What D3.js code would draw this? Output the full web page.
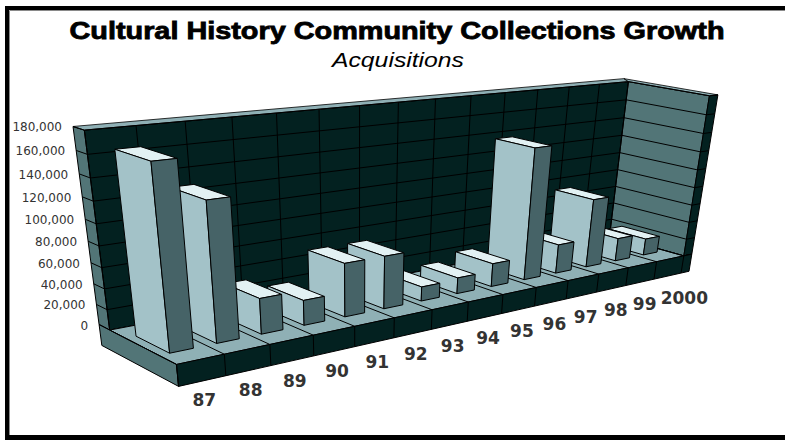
<!DOCTYPE html>
<html><head><meta charset="utf-8">
<script src="https://cdn.jsdelivr.net/npm/d3@7"></script>
<style>html,body{margin:0;padding:0;background:#fff}svg{display:block}</style></head>
<body><svg id="c" width="785" height="440"></svg>
<script>
const categories=["87","88","89","90","91","92","93","94","95","96","97","98","99","2000"];
const acquisitions=[168000,131000,35000,25000,54000,54000,15000,17000,25000,140000,32000,76000,26000,19000];
const tickValues=[0,20000,40000,60000,80000,100000,120000,140000,160000,180000];
const titleText="Cultural History Community Collections Growth";
const subtitleText="Acquisitions";
const tx=0.3,tz=0.17,base=-21000,bx0=0.22,bx1=0.72,bz0=0.25,bz1=0.75;
const xr=1+tx/14,yb=base/180000,zr=1+tz;
// camera calibration: box corner [x,y,z] (unit box) to its screen position
const calibration=[
 [0,0,1,110,331],[0,1,1,84,128],[1,0,1,610,227],[1,1,1,627,85],
 [1,0,0,682,257],[1,1,0,708,95],[0,0,0,176,359],
 [0,yb,0,178,386],[xr,yb,0,689,275],[xr,0,0,693,255],[xr,1,0,721,95],
 [0,0,zr,100,327],[0,yb,zr,102,350],[0,1,zr,73,126]];
const colors={back:"#032120",side:"#527577",floor:"#8fb0b5",light:"#a3c2c8",top:"#e2f1f3",dark:"#466367"};

function solve(A,b){const n=b.length,M=A.map((r,i)=>[...r,b[i]]);
 for(let i=0;i<n;i++){let p=i;for(let k=i+1;k<n;k++)if(Math.abs(M[k][i])>Math.abs(M[p][i]))p=k;
  [M[i],M[p]]=[M[p],M[i]];
  for(let k=0;k<n;k++){if(k===i)continue;const f=M[k][i]/M[i][i];for(let j=i;j<=n;j++)M[k][j]-=f*M[i][j];}}
 return M.map((r,i)=>r[n]/r[i]);}
function fitCamera(pts){const R=[],B=[];
 pts.forEach(([X,Y,Z,u,v])=>{
  R.push([X,Y,Z,1,0,0,0,0,-u*X,-u*Y,-u*Z]);B.push(u);
  R.push([0,0,0,0,X,Y,Z,1,-v*X,-v*Y,-v*Z]);B.push(v);});
 const n=11,A=d3.range(n).map(i=>d3.range(n).map(j=>d3.sum(R,r=>r[i]*r[j]))),
  b=d3.range(n).map(i=>d3.sum(R,(r,k)=>r[i]*B[k]));
 return solve(A,b);}
const P=fitCamera(calibration);

const xS=d3.scaleLinear().domain([0,categories.length]).range([0,1]);
const yS=d3.scaleLinear().domain([0,180000]).range([0,1]);
const proj=(x,v,z)=>{const X=xS(x),Y=yS(v),Z=z,w=P[8]*X+P[9]*Y+P[10]*Z+1;
 return [(P[0]*X+P[1]*Y+P[2]*Z+P[3])/w,(P[4]*X+P[5]*Y+P[6]*Z+P[7])/w];};

const n=categories.length;
const svg=d3.select("#c");
svg.append("rect").attr("width",785).attr("height",440).attr("fill","#fff");
svg.append("path").attr("d","M5 435V6H785V10H9V435Z").attr("fill","#000");
svg.append("rect").attr("x",5).attr("y",435).attr("width",780).attr("height",5).attr("fill","#000");
svg.append("path").attr("d","M9.5 435V10.5H785").attr("fill","none").attr("stroke","#8a8a8a").attr("stroke-width",1);

const g=svg.append("g").attr("stroke","#000").attr("stroke-linejoin","round");
const poly=(pts,fill,sw=1)=>g.append("polygon").attr("points",pts.map(p=>p.join(",")).join(" ")).attr("fill",fill).attr("stroke-width",sw);
const line=(a,b,sw=1)=>g.append("line").attr("x1",a[0]).attr("y1",a[1]).attr("x2",b[0]).attr("y2",b[1]).attr("stroke-width",sw);
const T=180000;

poly([proj(0,0,1),proj(0,T,1),proj(n,T,1),proj(n,0,1)],colors.back);
poly([proj(0,0,1),proj(0,T,1),proj(0,T,zr),proj(0,0,zr)],colors.side);
poly([proj(0,T,1),proj(0,T,zr),proj(n+tx,T,zr),proj(n,T,1)],colors.floor,.8);
poly([proj(n,0,1),proj(n,T,1),proj(n,T,0),proj(n,0,0)],colors.side);
poly([proj(n,T,0),proj(n+tx,T,0),proj(n+tx,0,0),proj(n,0,0)],colors.back);
poly([proj(n,T,1),proj(n+tx,T,zr),proj(n+tx,T,0),proj(n,T,0)],colors.floor,.8);
tickValues.forEach(v=>{line(proj(0,v,zr),proj(0,v,1));line(proj(0,v,1),proj(n,v,1));line(proj(n,v,1),proj(n,v,0));line(proj(n,v,0),proj(n+tx,v,0));});
d3.range(n+1).forEach(i=>line(proj(i,0,1),proj(i,T,1)));
poly([proj(0,0,zr),proj(0,0,0),proj(n+tx,0,0),proj(n,0,0),proj(n,0,1),proj(0,0,1)],colors.floor);
poly([proj(0,0,0),proj(0,base,0),proj(0,base,zr),proj(0,0,zr)],colors.side);
poly([proj(0,0,0),proj(0,base,0),proj(n+tx,base,0),proj(n+tx,0,0)],colors.back);
d3.range(n+1).forEach(i=>{line(proj(i,0,1),proj(i,0,0));line(proj(i,0,0),proj(i,base,0));});
d3.range(n-1,-1,-1).forEach(i=>{const v=acquisitions[i],a=i+bx0,b=i+bx1;
 poly([proj(a,v,bz1),proj(b,v,bz1),proj(b,v,bz0),proj(a,v,bz0)],colors.top);
 poly([proj(a,0,bz1),proj(a,v,bz1),proj(a,v,bz0),proj(a,0,bz0)],colors.light);
 poly([proj(a,0,bz0),proj(a,v,bz0),proj(b,v,bz0),proj(b,0,bz0)],colors.dark);
});

svg.append("text").attr("x",397).attr("y",39).attr("text-anchor","middle")
 .attr("font-family","Liberation Sans").attr("font-weight",700).attr("font-size",23)
 .attr("textLength",655).attr("lengthAdjust","spacingAndGlyphs")
 .attr("stroke","#000").attr("stroke-width",.8).text(titleText);
svg.append("text").attr("x",398).attr("y",66.5).attr("text-anchor","middle")
 .attr("font-family","Liberation Sans").attr("font-style","italic").attr("font-size",21)
 .attr("textLength",132).attr("lengthAdjust","spacingAndGlyphs").text(subtitleText);
const fmt=d3.format(",");
tickValues.forEach(v=>{const p=proj(0,v,zr);
 svg.append("text").attr("x",p[0]-11).attr("y",p[1]+5).attr("text-anchor","end")
  .attr("font-family","DejaVu Sans").attr("font-size",12).attr("fill","#333").text(fmt(v));});
const dxS=d3.scaleLinear().domain([0,n-1]).range([-10,-7]);
const dyS=d3.scaleLinear().domain([0,n-1]).range([25.5,28]);
categories.forEach((c,i)=>{const p=proj(i+.5,base,0);
 svg.append("text").attr("x",p[0]+dxS(i)).attr("y",p[1]+dyS(i)).attr("text-anchor","start")
  .attr("font-family","DejaVu Sans").attr("font-weight",700).attr("font-size",17).attr("fill","#333").text(c);});
</script></body></html>
